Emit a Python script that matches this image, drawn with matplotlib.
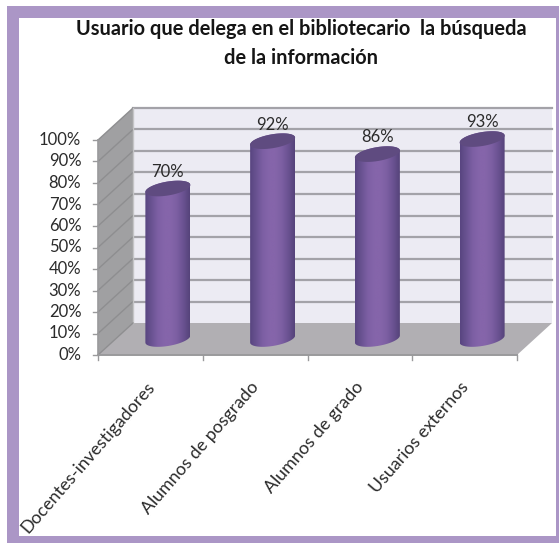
import numpy as np
import matplotlib
matplotlib.use("Agg")
import matplotlib.pyplot as plt
from matplotlib.colors import LinearSegmentedColormap
from matplotlib.patches import Polygon, Rectangle

categories = ["Docentes-investigadores", "Alumnos de posgrado", "Alumnos de grado", "Usuarios externos"]
values = [70, 92, 86, 93]
y_ticks = [0, 10, 20, 30, 40, 50, 60, 70, 80, 90, 100]
title = "Usuario que delega en el bibliotecario  la búsqueda\nde la información"

W, H = 559, 543
FRAME = "#ab96c6"
TEXT = "#2b2b2b"
GRID = "#a3a2a8"
FONT = "Lato"

# la caja 3D es la pared del fondo mas un desplazamiento hacia delante
LEFT, RIGHT, TOP, BOTTOM = 133, 552, 108, 323
X_PER_PX = 4 / (RIGHT - LEFT)
Y_PER_PX = 100 / (BOTTOM - TOP)
DX = -35 * X_PER_PX
DY = -32 * Y_PER_PX

fig = plt.figure(figsize=(W / 100, H / 100), dpi=100, facecolor="white")


def fig_rect(x0, y0, x1, y1):
    fig.add_artist(Rectangle((x0 / W, 1 - y1 / H), (x1 - x0) / W, (y1 - y0) / H,
                             transform=fig.transFigure, fc=FRAME, ec="none"))


fig_rect(7, 6, 559, 18)
fig_rect(7, 18, 19, 543)
fig_rect(556, 18, 559, 543)
fig_rect(7, 536, 559, 543)

ax = fig.add_axes([LEFT / W, 1 - BOTTOM / H, (RIGHT - LEFT) / W, (BOTTOM - TOP) / H])
ax.axis("off")
x0, x1 = -0.5, 3.5

# pared del fondo, pared lateral y suelo
ax.add_patch(Rectangle((x0, 0), 4, 100, fc="#ecebf3", ec="none", zorder=1))
ax.add_patch(Polygon([(x0, 0), (x0, 100), (x0 + DX, 100 + DY), (x0 + DX, DY)],
                     fc="#a0a0a2", ec="none", clip_on=False, zorder=1))
ax.add_patch(Polygon([(x0, 0), (x1, 0), (x1 + DX, DY), (x0 + DX, DY)],
                     fc="#b1afb3", ec="none", clip_on=False, zorder=2))

for t in y_ticks[1:]:
    ax.plot([x0, x1], [t, t], color=GRID, lw=1.6, zorder=2, clip_on=False)
    ax.plot([x0 + DX, x0], [t + DY, t], color="#8e8e90", lw=1.0, zorder=2, clip_on=False)
ax.plot([x0 + DX, x0], [DY, 0], color="#8e8e90", lw=1.0, zorder=3, clip_on=False)
ax.plot([x0, x0], [0, 100], color="#c4c4c6", lw=1.0, zorder=2, clip_on=False)

# ejes delanteros
ax.plot([x0 + DX, x0 + DX], [DY, 100 + DY], color="#9a9a9c", lw=1.2, zorder=3, clip_on=False)
ax.plot([x0 + DX, x1 + DX], [DY, DY], color="#9a9a9c", lw=1.4, zorder=3, clip_on=False)
for t in y_ticks:
    ax.plot([x0 + DX - 5 * X_PER_PX, x0 + DX], [t + DY, t + DY], color="#9a9a9c", lw=1.0,
            zorder=3, clip_on=False)
    ax.annotate(f"{t}%", (x0 + DX, t + DY), xytext=(-12, 0), textcoords="offset points",
                ha="right", va="center", fontsize=12, color=TEXT, family=FONT,
                annotation_clip=False)
for i in range(len(categories) + 1):
    ax.plot([x0 + DX + i, x0 + DX + i], [DY, DY - 5 * Y_PER_PX], color="#9a9a9c", lw=1.0,
            zorder=3, clip_on=False)

# cilindros
a = 22.5 * X_PER_PX
b = 7 * Y_PER_PX
tilt = 3.5 * Y_PER_PX / a
cyl_cmap = LinearSegmentedColormap.from_list(
    "cyl", ["#584580", "#6a5392", "#7d5fa4", "#8565aa", "#8565aa", "#7c5fa2", "#6a5291", "#55437a"])
grad = np.linspace(0, 1, 128).reshape(1, -1)
th = np.linspace(0, 2 * np.pi, 120)
lower = np.linspace(np.pi, 2 * np.pi, 60)
upper = np.linspace(0, np.pi, 60)


def ell(cx, cy, angles):
    ex = cx + a * np.cos(angles)
    ey = cy + b * np.sin(angles) + tilt * a * np.cos(angles)
    return np.column_stack([ex, ey])


for i, v in enumerate(values):
    cx = i + DX / 2
    base = DY / 2
    top = v + DY / 2
    body = np.vstack([ell(cx, base, lower), ell(cx, top, upper)])
    patch = Polygon(body, fc="none", ec="none", transform=ax.transData, clip_on=False)
    ax.add_patch(patch)
    im = ax.imshow(grad, cmap=cyl_cmap, extent=(cx - a, cx + a, base - 2 * b, top + 2 * b),
                   aspect="auto", zorder=4, interpolation="bilinear")
    im.set_clip_box(fig.bbox)
    im.set_clip_path(patch)
    ax.add_patch(Polygon(ell(cx, top, th), fc="#5f4b80", ec="none", zorder=5, clip_on=False))
    ax.annotate(f"{v}%", (cx, top), xytext=(0, 12), textcoords="offset points",
                ha="center", va="center", fontsize=12, color=TEXT, family=FONT,
                annotation_clip=False)
    ax.annotate(categories[i], (i + DX, DY), xytext=(-3.5, -17), textcoords="offset points",
                rotation=49, rotation_mode="anchor", ha="right", va="top", fontsize=12.8,
                color=TEXT, family=FONT, annotation_clip=False)

ax.set_xlim(x0, x1)
ax.set_ylim(0, 100)

fig.text(301 / W, 1 - 43.5 / H, title, ha="center", va="center", fontsize=14.4, fontweight="bold",
         color="#151515", family=FONT, linespacing=1.6)

fig.savefig("out.png", dpi=100)
